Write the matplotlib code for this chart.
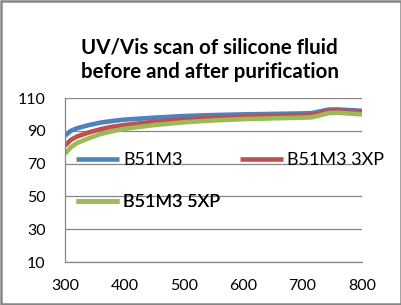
import matplotlib
matplotlib.use("Agg")
import matplotlib.pyplot as plt
from matplotlib.patches import Rectangle

# wavelength (nm) and transmission values
wavelength = [300, 310, 320, 340, 360, 380, 400, 450, 500, 550, 600, 650,
              700, 715, 725, 735, 745, 760, 780, 800]
b51m3 = [87, 90, 91.5, 93.5, 95, 96, 96.8, 98, 99, 99.6, 100, 100.3,
         100.6, 100.8, 101.5, 102.3, 103, 103, 102.6, 102.2]
b51m3_3xp = [81, 84.5, 86.5, 89, 91, 92.5, 93.5, 95.5, 96.9, 97.9, 98.6, 99.1,
             99.6, 99.8, 100.5, 101.4, 102.2, 102.3, 101.8, 101.2]
b51m3_5xp = [76, 80, 82.5, 85.5, 88, 89.8, 91.2, 93.5, 95.2, 96.3, 97.1, 97.6,
             98.0, 98.2, 99, 100, 100.8, 101, 100.5, 100.0]

series_names = ["B51M3", "B51M3 3XP", "B51M3 5XP"]
colors = ["#4F81BD", "#C0504D", "#9BBB59"]
x_ticks = [300, 400, 500, 600, 700, 800]
y_ticks = [10, 30, 50, 70, 90, 110]

plt.rcParams["font.family"] = ["Lato", "DejaVu Sans"]

fig = plt.figure(figsize=(4.02, 3.05), dpi=100)
ax = fig.add_axes([65 / 402, 1 - 262 / 305, 297 / 402, 164 / 305])

lines = []
for ys, name, c in zip([b51m3, b51m3_3xp, b51m3_5xp], series_names, colors):
    (ln,) = ax.plot(wavelength, ys, color=c, lw=3.3, label=name, solid_capstyle="butt")
    lines.append(ln)

ax.set_xlim(300, 800)
ax.set_ylim(10, 110)
ax.set_xticks(x_ticks)
ax.set_yticks(y_ticks)
ax.grid(axis="y", color="#868686", lw=0.9)
ax.set_axisbelow(True)
for side in ["top", "right"]:
    ax.spines[side].set_visible(False)
for side in ["left", "bottom"]:
    ax.spines[side].set_color("#868686")
    ax.spines[side].set_linewidth(0.9)
ax.tick_params(length=0, labelsize=11.5)
ax.tick_params(axis="y", pad=14)
ax.tick_params(axis="x", pad=12)

fig.text(0.522, 1 - 60 / 305, "UV/Vis scan of silicone fluid\nbefore and after purification",
         ha="center", va="center", fontsize=14.8, fontweight="bold", linespacing=1.3)

# Excel-style legend: entries laid out in a loose grid inside the plot area
legend_xy = [(76, 160), (240, 160), (76, 202)]  # pixel spots of each entry's handle
for ln, name, (px, py) in zip(lines, series_names, legend_xy):
    leg = ax.legend([ln], [name], frameon=False, fontsize=13, handlelength=2.4,
                    handletextpad=0.2, borderpad=0, borderaxespad=0, loc="center left",
                    bbox_to_anchor=((px - 65) / 297, (262 - py) / 164))
    ax.add_artist(leg)

fig.patches.append(Rectangle((0.0025, 0.003), 0.995, 0.994, transform=fig.transFigure,
                             fill=False, edgecolor="#868686", lw=1.8))

fig.savefig("out.png", dpi=100)
